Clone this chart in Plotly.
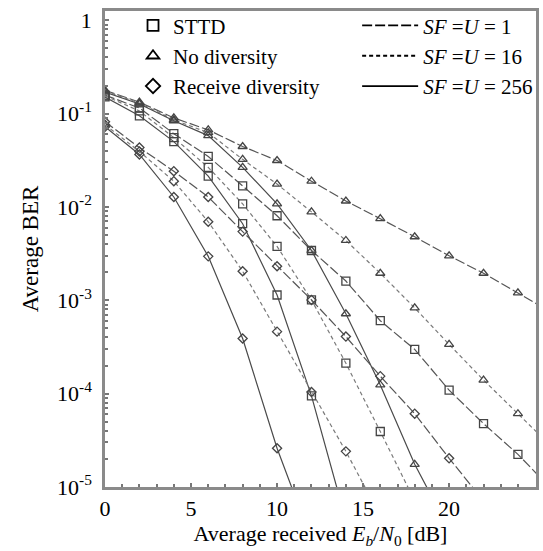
import plotly.graph_objects as go

# Eb/N0 sample points [dB]
ebn0 = [0, 2, 4, 6, 8, 10, 12, 14, 16, 18, 20, 22, 24, 26]

# No diversity (triangles)
nodiv_sf1 = [0.178, 0.133, 0.090, 0.067, 0.0445, 0.0315, 0.0189, 0.0116, 0.0075, 0.0048, 0.0030, 0.00195, 0.00120, 0.00073]
nodiv_sf16 = [0.175, 0.130, 0.086, 0.0625, 0.0324, 0.0176, 0.00887, 0.00438, 0.00195, 0.00083, 0.000337, 0.000140, 6.1e-5, 2.65e-5]
nodiv_sf256 = [0.170, 0.127, 0.084, 0.0582, 0.0266, 0.0108, 0.00342, 0.000718, 0.000124, 1.75e-5, 3.5e-6]

# STTD (squares)
sttd_sf1 = [0.158, 0.115, 0.0611, 0.0348, 0.0168, 0.00806, 0.00342, 0.00161, 0.000605, 0.000298, 0.000109, 4.78e-5, 2.24e-5, 9.3e-6]
sttd_sf16 = [0.155, 0.107, 0.0553, 0.0266, 0.0108, 0.00378, 0.00101, 0.000212, 3.93e-5, 7.1e-6]
sttd_sf256 = [0.151, 0.0948, 0.0502, 0.0214, 0.00662, 0.00114, 9.46e-5, 4.4e-6]

# Receive diversity (diamonds)
rxdiv_sf1 = [0.0818, 0.0433, 0.0242, 0.0128, 0.00545, 0.00232, 0.00101, 0.000409, 0.000154, 6.1e-5, 2.03e-5, 7.1e-6]
rxdiv_sf16 = [0.0760, 0.0394, 0.0189, 0.00695, 0.00205, 0.000462, 0.000104, 2.41e-5, 4.9e-6]
rxdiv_sf256 = [0.0724, 0.0366, 0.0128, 0.00296, 0.000390, 2.6e-5, 2.7e-6]

scheme_names = ["STTD", "No diversity", "Receive diversity"]
sf_names = ["<i>SF</i> =<i>U</i> = 1", "<i>SF</i> =<i>U</i> = 16", "<i>SF</i> =<i>U</i> = 256"]

y_tickvals = [1e-5, 1e-4, 1e-3, 1e-2, 1e-1, 1]
y_ticktext = ["10<sup>-5</sup>", "10<sup>-4</sup>", "10<sup>-3</sup>", "10<sup>-2</sup>", "10<sup>-1</sup>", "1"]
x_tickvals = [0, 5, 10, 15, 20, 25]

FONT = "Liberation Serif, Times New Roman, serif"
symbols = {"STTD": "square-open", "No diversity": "triangle-up-open", "Receive diversity": "diamond-open"}
dashes = ["10px,3px", "4px,3px", "solid"]
line_cols = ["#555555", "#7a7a7a", "#4a4a4a"]

series = [
    ("No diversity", 0, nodiv_sf1), ("No diversity", 1, nodiv_sf16), ("No diversity", 2, nodiv_sf256),
    ("STTD", 0, sttd_sf1), ("STTD", 1, sttd_sf16), ("STTD", 2, sttd_sf256),
    ("Receive diversity", 0, rxdiv_sf1), ("Receive diversity", 1, rxdiv_sf16), ("Receive diversity", 2, rxdiv_sf256),
]

fig = go.Figure()
for scheme, k, vals in series:
    fig.add_trace(go.Scatter(
        x=ebn0[:len(vals)], y=vals, mode="lines+markers", showlegend=False,
        line=dict(color=line_cols[k], width=1.2, dash=dashes[k]),
        marker=dict(symbol=symbols[scheme], size=8 if scheme != "Receive diversity" else 7,
                    color="#444444", line=dict(width=1.3, color="#444444")),
    ))

for name in scheme_names:
    fig.add_trace(go.Scatter(
        x=[None], y=[None], mode="markers", name=name, legend="legend",
        marker=dict(symbol=symbols[name], size=11, color="black", line=dict(width=1.8, color="black")),
    ))
for k, name in enumerate(sf_names):
    fig.add_trace(go.Scatter(
        x=[None], y=[None], mode="lines", name=name, legend="legend2",
        line=dict(color="black", width=1.8, dash=dashes[k]),
    ))

fig.update_layout(
    width=543, height=551,
    margin=dict(l=105, r=5, t=6, b=64),
    paper_bgcolor="white", plot_bgcolor="white",
    font=dict(family=FONT, size=20, color="black"),
    legend=dict(x=0.065, y=1.012, xanchor="left", yanchor="top", bgcolor="rgba(0,0,0,0)",
                font=dict(family=FONT, size=21, color="black"), itemwidth=30, tracegroupgap=0),
    legend2=dict(x=0.585, y=1.012, xanchor="left", yanchor="top", bgcolor="rgba(0,0,0,0)",
                 font=dict(family=FONT, size=21, color="black"), itemwidth=56, tracegroupgap=0),
    xaxis=dict(
        range=[0, 25.05], tickvals=x_tickvals, ticks="inside", ticklen=4, tickwidth=1.5, tickcolor="#777",
        showline=True, linecolor="#8a8a8a", linewidth=2.5, mirror=True, showgrid=False, zeroline=False,
        tickfont=dict(family=FONT, size=22, color="black"),
        minor=dict(dtick=1, ticks="inside", ticklen=3, tickcolor="#777", showgrid=False),
        title=dict(text="Average received <i>E</i><sub><i>b</i></sub>/<i>N</i><sub>0</sub> [dB]",
                   font=dict(family=FONT, size=22, color="black"), standoff=6),
    ),
    yaxis=dict(
        type="log", range=[-5, 0.1], tickvals=y_tickvals, ticktext=y_ticktext,
        ticks="inside", ticklen=4, tickwidth=1.5, tickcolor="#777",
        showline=True, linecolor="#8a8a8a", linewidth=2.5, mirror=True, showgrid=False, zeroline=False,
        tickfont=dict(family=FONT, size=22, color="black"), ticklabelstandoff=6,
        minor=dict(ticks="inside", ticklen=3, tickcolor="#777", showgrid=False, dtick="D1"),
        title=dict(text="Average BER", font=dict(family=FONT, size=23, color="black"), standoff=12),
    ),
)

fig.write_html("out.html", config={"displayModeBar": False},
               post_script="document.body.style.margin='0';")
